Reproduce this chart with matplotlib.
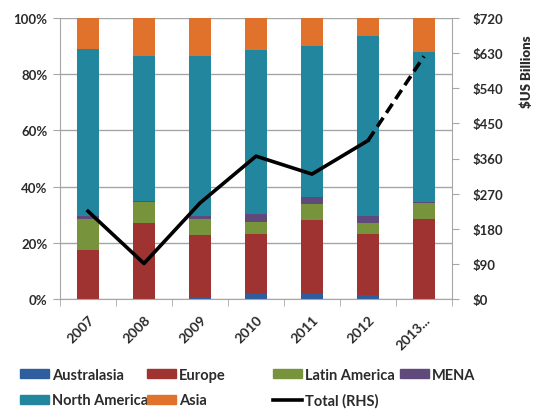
import matplotlib
matplotlib.use('Agg')
import matplotlib.pyplot as plt
import numpy as np
from matplotlib.patches import Patch
from matplotlib.lines import Line2D

plt.rcParams['font.family'] = ['Lato', 'DejaVu Sans']
plt.rcParams['font.weight'] = 'bold'

years = ['2007', '2008', '2009', '2010', '2011', '2012', '2013...']
# shares of the total, %
australasia = [0.0, 0.0, 0.4, 1.8, 1.8, 1.4, 0.0]
europe = [17.6, 26.9, 22.4, 21.3, 26.2, 21.8, 28.6]
latin_america = [10.9, 7.7, 5.7, 4.4, 5.8, 4.0, 5.4]
mena = [0.9, 0.3, 0.9, 2.7, 2.4, 2.2, 0.4]
north_america = [59.6, 51.5, 57.2, 58.4, 53.7, 64.3, 53.4]
asia = [11.0, 13.6, 13.4, 11.4, 10.1, 6.3, 12.2]
# total, $US billions (right axis)
total = [225, 91, 246, 366, 320, 406, 622]

series = [
    ('Australasia', australasia, '#2E5E9E'),
    ('Europe', europe, '#9E3332'),
    ('Latin America', latin_america, '#77933C'),
    ('MENA', mena, '#604A7B'),
    ('North America', north_america, '#23869F'),
    ('Asia', asia, '#E0722B'),
]

txt = '#2b2b2b'
grid_c = '#A6A6A6'

fig = plt.figure(figsize=(5.33, 4.10), dpi=100)
ax = fig.add_axes([60 / 533, 1 - 300 / 410, 392 / 533, 281 / 410])
x = np.arange(len(years))

bottom = np.zeros(len(years))
for name, vals, col in series:
    ax.bar(x, vals, bottom=bottom, width=0.4, color=col, zorder=2)
    bottom += np.array(vals)

ax.set_xlim(-0.5, len(years) - 0.5)
ax.set_ylim(0, 100)
ax.set_yticks(np.arange(0, 101, 20))
ax.set_yticklabels([f'{v}%' for v in range(0, 101, 20)])
ax.yaxis.grid(True, color=grid_c, lw=1, zorder=0)
ax.set_xticks(x)
ax.set_xticklabels(years, rotation=45, ha='right', rotation_mode='anchor')
ax.set_xticks(np.arange(-0.5, len(years), 1), minor=True)
ax.tick_params(axis='x', which='major', length=0, pad=10, labelsize=10, labelcolor=txt)
ax.tick_params(axis='x', which='minor', length=5, color=grid_c, direction='out')
ax.tick_params(axis='y', length=5, color=grid_c, pad=4, labelsize=9.5, labelcolor=txt)
for s in ['top', 'right']:
    ax.spines[s].set_visible(False)
for s in ['left', 'bottom']:
    ax.spines[s].set_color(grid_c)

ax2 = ax.twinx()
ax2.plot(x[:-1], total[:-1], color='black', lw=2.6, zorder=5)
ax2.plot(x[-2:], total[-2:], color='black', lw=2.6, ls=(0, (3, 1.6)), zorder=5)
ax2.set_ylim(0, 720)
ax2.set_yticks(np.arange(0, 721, 90))
ax2.set_yticklabels([f'${v}' for v in range(0, 721, 90)])
ax2.tick_params(axis='y', length=5, color=grid_c, pad=10, labelsize=9.5, labelcolor=txt)
for s in ['top', 'left', 'bottom']:
    ax2.spines[s].set_visible(False)
ax2.spines['right'].set_color(grid_c)

fig.text(527 / 533, 1 - 72 / 410, '$US Billions', rotation=90, ha='center', va='center',
         fontsize=9.5, fontweight='heavy', color=txt)

# legend, laid out in four columns like the original
handles = {name: Patch(color=col) for name, vals, col in series}
handles['Total (RHS)'] = Line2D([], [], color='black', lw=2.6)
columns = [(['Australasia', 'North America'], 20),
           (['Europe', 'Asia'], 147),
           (['Latin America', 'Total (RHS)'], 273),
           (['MENA'], 400)]
for names, xpos in columns:
    fig.legend([handles[n] for n in names], names, loc='upper left',
               bbox_to_anchor=(xpos / 533, 1 - 369 / 410), frameon=False,
               borderpad=0, borderaxespad=0, handlelength=2.0, handleheight=0.6,
               handletextpad=0.2, labelspacing=0.78, fontsize=10.5, labelcolor=txt)

fig.savefig('out.png', dpi=100)
